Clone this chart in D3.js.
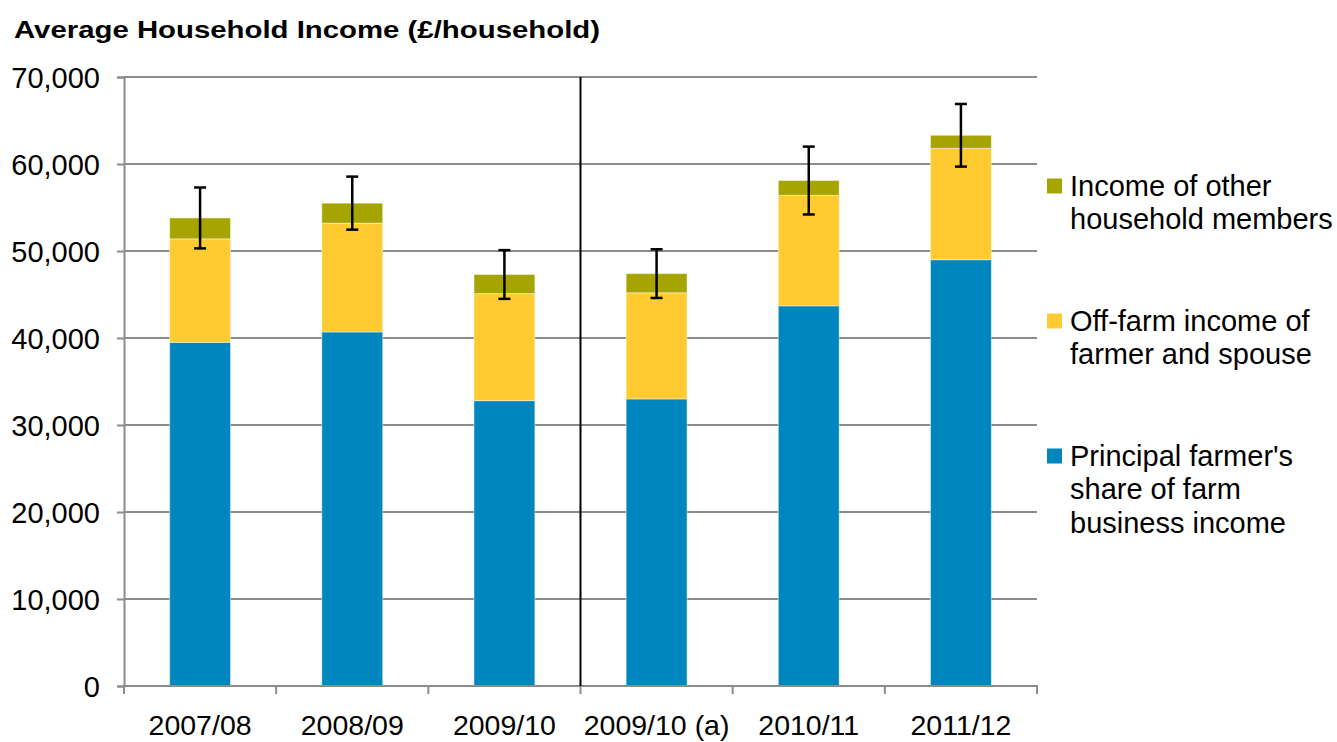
<!DOCTYPE html>
<html>
<head>
<meta charset="utf-8">
<script src="https://cdn.jsdelivr.net/npm/d3@7"></script>
<style>
  body { margin: 0; background: #fff; }
  text { font-family: "Liberation Sans", Arial, sans-serif; fill: #000; }
</style>
</head>
<body>
<div id="chart"></div>
<script>
// Data
const years = ["2007/08", "2008/09", "2009/10", "2009/10 (a)", "2010/11", "2011/12"];
const farmShare = [39500, 40700, 32800, 33000, 43700, 49000];
const offFarm = [11900, 12500, 12300, 12200, 12700, 12800];
const otherMembers = [2400, 2300, 2200, 2200, 1700, 1500];
const errorMargin = [3500, 3050, 2800, 2800, 3900, 3600];
const yTicks = [0, 10000, 20000, 30000, 40000, 50000, 60000, 70000];

const seriesNames = ["Principal farmer's share of farm business income",
  "Off-farm income of farmer and spouse",
  "Income of other household members"];
const seriesColors = ["#0086be", "#ffcb31", "#a6a500"];

const width = 1337, height = 742;
const plot = { left: 124, right: 1037, top: 77, bottom: 686 };
const fontFamily = "'Liberation Sans', Arial, sans-serif";

const svg = d3.select("#chart").append("svg")
  .attr("width", width)
  .attr("height", height);

const x = d3.scaleBand()
  .domain(years)
  .range([plot.left, plot.right])
  .paddingInner(0.6)
  .paddingOuter(0.3);

const y = d3.scaleLinear()
  .domain([0, 70000])
  .range([plot.bottom, plot.top]);

// gridlines
svg.append("g")
  .selectAll("line")
  .data(yTicks.slice(1))
  .enter().append("line")
  .attr("x1", plot.left).attr("x2", plot.right)
  .attr("y1", d => y(d)).attr("y2", d => y(d))
  .style("stroke", "#8c8c8c")
  .style("stroke-width", 2);

// stacked bars
const rows = years.map((yr, i) => ({
  year: yr,
  s0: farmShare[i], s1: offFarm[i], s2: otherMembers[i]
}));
const stack = d3.stack().keys(["s0", "s1", "s2"]);
const layers = stack(rows);

svg.append("g")
  .selectAll("g")
  .data(layers)
  .enter().append("g")
  .style("fill", (d, i) => seriesColors[i])
  .selectAll("rect")
  .data(d => d)
  .enter().append("rect")
  .attr("x", d => x(d.data.year))
  .attr("width", x.bandwidth())
  .attr("y", d => y(d[1]))
  .attr("height", d => y(d[0]) - y(d[1]))
  .style("stroke", "rgba(255,255,255,0.45)")
  .style("stroke-width", 1);

// y axis
const yAxis = svg.append("g")
  .attr("transform", `translate(${plot.left},0)`)
  .call(d3.axisLeft(y).tickValues(yTicks).tickSize(7).tickPadding(17)
    .tickFormat(d3.format(",")));
yAxis.select(".domain").style("stroke", "#8c8c8c").style("stroke-width", 2);
yAxis.selectAll(".tick line").style("stroke", "#8c8c8c").style("stroke-width", 2);
yAxis.selectAll("text")
  .attr("dy", "0.36em")
  .style("font-size", "29px")
  .style("font-family", fontFamily)
  .style("fill", "#000");

// x axis with ticks between categories
const step = x.step();
const boundaries = d3.range(years.length + 1).map(i => plot.left + i * step);
svg.append("line")
  .attr("x1", plot.left - 1).attr("x2", plot.right + 1)
  .attr("y1", plot.bottom).attr("y2", plot.bottom)
  .style("stroke", "#8c8c8c").style("stroke-width", 2);
svg.append("g")
  .selectAll("line")
  .data(boundaries)
  .enter().append("line")
  .attr("x1", d => d).attr("x2", d => d)
  .attr("y1", plot.bottom).attr("y2", plot.bottom + 8)
  .style("stroke", "#8c8c8c").style("stroke-width", 2);

svg.append("g")
  .selectAll("text")
  .data(years)
  .enter().append("text")
  .attr("x", d => x(d) + x.bandwidth() / 2)
  .attr("y", 735)
  .attr("text-anchor", "middle")
  .style("font-size", "28.5px")
  .text(d => d);

// divider between old and new series
svg.append("line")
  .attr("x1", boundaries[3]).attr("x2", boundaries[3])
  .attr("y1", plot.top).attr("y2", plot.bottom)
  .style("stroke", "#000").style("stroke-width", 2);

// error bars
const errG = svg.append("g")
  .selectAll("g")
  .data(rows)
  .enter().append("g")
  .style("stroke", "#000")
  .style("stroke-width", 2.5);
const total = d => d.s0 + d.s1 + d.s2;
const cx = d => x(d.year) + x.bandwidth() / 2;
errG.append("line")
  .attr("x1", cx).attr("x2", cx)
  .attr("y1", (d, i) => y(total(d) + errorMargin[i]))
  .attr("y2", (d, i) => y(total(d) - errorMargin[i]));
errG.append("line")
  .attr("x1", d => cx(d) - 6).attr("x2", d => cx(d) + 6)
  .attr("y1", (d, i) => y(total(d) + errorMargin[i]))
  .attr("y2", (d, i) => y(total(d) + errorMargin[i]));
errG.append("line")
  .attr("x1", d => cx(d) - 6).attr("x2", d => cx(d) + 6)
  .attr("y1", (d, i) => y(total(d) - errorMargin[i]))
  .attr("y2", (d, i) => y(total(d) - errorMargin[i]));

// title (stretched horizontally as in the original)
svg.append("text")
  .attr("x", 14)
  .attr("y", 38)
  .attr("textLength", 586)
  .attr("lengthAdjust", "spacingAndGlyphs")
  .style("font-size", "24.5px")
  .style("font-weight", "bold")
  .text("Average Household Income (£/household)");

// legend (top item is the top stack segment)
const legendItems = [
  { color: seriesColors[2], lines: ["Income of other", "household members"], cy: 186 },
  { color: seriesColors[1], lines: ["Off-farm income of", "farmer and spouse"], cy: 321 },
  { color: seriesColors[0], lines: ["Principal farmer's", "share of farm", "business income"], cy: 456 }
];
const legend = svg.append("g");
const item = legend.selectAll("g")
  .data(legendItems)
  .enter().append("g")
  .attr("transform", d => `translate(1047,${d.cy})`);
item.append("rect")
  .attr("x", 0).attr("y", -7.5)
  .attr("width", 15).attr("height", 15)
  .style("fill", d => d.color);
item.append("text")
  .style("font-size", "29px")
  .selectAll("tspan")
  .data(d => d.lines)
  .enter().append("tspan")
  .attr("x", 23)
  .attr("y", (d, i) => 10 + i * 33.4)
  .text(d => d);
</script>
</body>
</html>
